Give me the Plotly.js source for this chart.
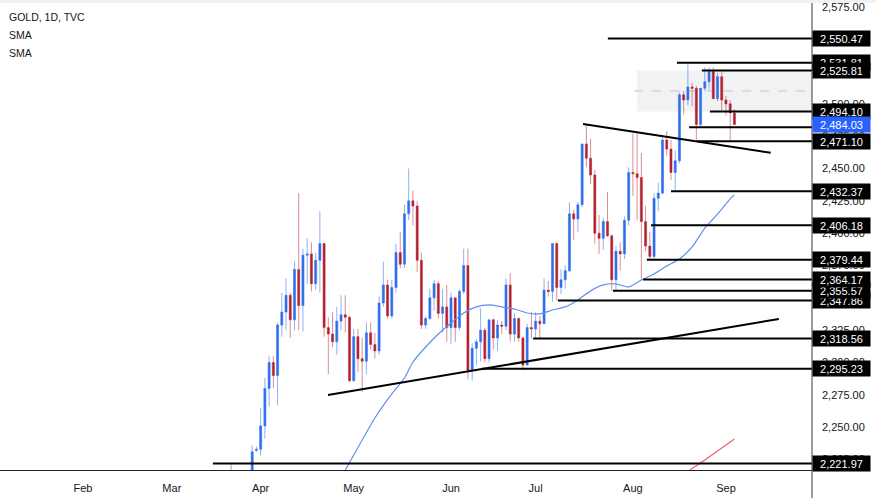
<!DOCTYPE html>
<html>
<head>
<meta charset="utf-8">
<script src="https://cdn.plot.ly/plotly-3.0.1.min.js"></script>
<style>
html,body{margin:0;padding:0;background:#fff;}
#chart{width:876px;height:498px;}
</style>
</head>
<body>
<div id="chart"></div>
<script>
// ---------- DATA ----------
const dates = [
 '2024-03-21','2024-03-22','2024-03-25','2024-03-26','2024-03-27','2024-03-28','2024-03-29',
 '2024-04-01','2024-04-02','2024-04-03','2024-04-04','2024-04-05','2024-04-08','2024-04-09','2024-04-10','2024-04-11','2024-04-12',
 '2024-04-15','2024-04-16','2024-04-17','2024-04-18','2024-04-19','2024-04-22','2024-04-23','2024-04-24','2024-04-25','2024-04-26','2024-04-29','2024-04-30',
 '2024-05-01','2024-05-02','2024-05-03','2024-05-06','2024-05-07','2024-05-08','2024-05-09','2024-05-10','2024-05-13','2024-05-14','2024-05-15','2024-05-16','2024-05-17',
 '2024-05-20','2024-05-21','2024-05-22','2024-05-23','2024-05-24','2024-05-27','2024-05-28','2024-05-29','2024-05-30','2024-05-31',
 '2024-06-03','2024-06-04','2024-06-05','2024-06-06','2024-06-07','2024-06-10','2024-06-11','2024-06-12','2024-06-13','2024-06-14',
 '2024-06-17','2024-06-18','2024-06-19','2024-06-20','2024-06-21','2024-06-24','2024-06-25','2024-06-26','2024-06-27','2024-06-28',
 '2024-07-01','2024-07-02','2024-07-03','2024-07-04','2024-07-05','2024-07-08','2024-07-09','2024-07-10','2024-07-11','2024-07-12',
 '2024-07-15','2024-07-16','2024-07-17','2024-07-18','2024-07-19','2024-07-22','2024-07-23','2024-07-24','2024-07-25','2024-07-26','2024-07-29','2024-07-30','2024-07-31',
 '2024-08-01','2024-08-02','2024-08-05','2024-08-06','2024-08-07','2024-08-08','2024-08-09','2024-08-12','2024-08-13','2024-08-14','2024-08-15','2024-08-16',
 '2024-08-19','2024-08-20','2024-08-21','2024-08-22','2024-08-23','2024-08-26','2024-08-27','2024-08-28','2024-08-29','2024-08-30',
 '2024-09-02','2024-09-03','2024-09-04'
];
const opens = [
 2186,2181,2165,2171,2179,2194,2232,
 2233,2251,2280,2300,2290,2329,2339,2352,2333,2372,
 2344,2383,2384,2361,2379,2392,2327,2322,2316,2332,2337,2335,
 2286,2320,2303,2301,2323,2314,2309,2346,2360,2336,2358,2385,2376,
 2415,2425,2421,2379,2329,2334,2350,2361,2338,2343,
 2327,2350,2327,2355,2375,2294,2311,2316,2325,2303,
 2333,2319,2329,2328,2360,2322,2334,2319,2298,2327,
 2326,2332,2330,2356,2355,2392,2358,2364,2371,2415,
 2411,2422,2469,2458,2445,2400,2396,2409,2398,2364,2386,2384,2410,
 2447,2446,2443,2409,2390,2382,2427,2431,2472,2465,2447,2456,
 2507,2503,2513,2512,2484,2512,2517,2525,2504,2521,
 2503,2500,2493
];
const highs = [
 2221.97,2190,2177,2185,2196,2236,2235,
 2265,2288,2305,2305,2331,2354,2365,2354,2378,2431,
 2388,2396,2393,2385,2417,2392,2335,2339,2343,2352,2352,2336,
 2326,2326,2319,2331,2331,2323,2351,2378,2364,2364,2392,2401,2422,
 2450,2433,2425,2385,2336,2357,2364,2363,2357,2360,
 2354,2350,2357,2388,2388,2315,2318,2342,2327,2333,
 2334,2333,2332,2365,2369,2338,2335,2320,2330,2339,
 2339,2336,2365,2363,2392,2393,2372,2375,2424,2418,
 2424,2469,2483.6,2473,2449,2414,2412,2432,2399,2390,2393,2413,2451,
 2477,2478,2462,2421,2401,2431,2439,2476,2479,2472,2464,2509,
 2510,2531.81,2516,2514,2512,2528,2528,2528,2524,2525,
 2506,2503,2496
];
const lows = [
 2180,2157,2160,2170,2176,2186,2231,
 2228,2241,2266,2280,2267,2320,2325,2319,2325,2325,
 2324,2361,2355,2356,2354,2320,2291,2312,2306,2325,2323,2285,
 2285,2293,2277,2291,2310,2303,2306,2343,2334,2334,2354,2373,2373,
 2410,2406,2370,2326,2326,2333,2340,2334,2323,2316,
 2314,2316,2325,2353,2287,2286,2298,2301,2300,2300,
 2310,2309,2322,2325,2316,2316,2316,2294,2298,2318.56,
 2318,2319,2330,2351,2347,2347.86,2353,2357,2370,2395,
 2401,2420,2451,2438,2392,2384,2387,2397,2355.57,2356,2371,2380,2406,
 2429,2410,2364.17,2386,2379.44,2380,2417,2430,2460,2441,2432.37,2454,
 2492,2499,2498,2471.10,2483,2510,2511,2504,2502,2495,
 2491,2472,2484
];
const closes = [
 2181,2165,2171,2179,2194,2231,2233,
 2251,2280,2300,2290,2329,2339,2352,2333,2372,2344,
 2383,2384,2361,2379,2392,2327,2322,2316,2332,2337,2335,2286,
 2320,2303,2301,2323,2314,2309,2346,2360,2336,2358,2385,2376,2415,
 2425,2421,2379,2329,2334,2350,2361,2338,2343,2327,
 2350,2327,2355,2375,2294,2311,2316,2325,2303,2333,
 2319,2329,2328,2360,2322,2334,2319,2298,2327,2326,
 2332,2330,2356,2355,2392,2358,2364,2371,2415,2411,
 2422,2469,2458,2445,2400,2396,2409,2398,2364,2386,2384,2410,2447,
 2446,2443,2409,2390,2382,2427,2431,2472,2465,2447,2456,2507,
 2503,2513,2512,2484,2512,2517,2525,2504,2521,2503,
 2500,2493,2484.03
];

// SMA readings (fast = blue, slow = red)
const smaFastDates = ['2024-04-25','2024-04-29','2024-05-08','2024-05-14','2024-05-17','2024-05-21','2024-05-24','2024-05-29',
 '2024-06-03','2024-06-06','2024-06-11','2024-06-14','2024-06-19','2024-06-24','2024-06-27','2024-07-02','2024-07-05','2024-07-10',
 '2024-07-15','2024-07-18','2024-07-23','2024-07-26','2024-07-31','2024-08-05','2024-08-08','2024-08-13','2024-08-16','2024-08-21',
 '2024-08-26','2024-08-29','2024-09-03','2024-09-04'];
const smaFastValues = [2206.1,2216.9,2257.1,2275.7,2288.0,2300.4,2312.0,2322.1,
 2330.6,2338.3,2343.0,2344.5,2343.0,2341.4,2338.3,2337.6,2340.6,2343.0,
 2348.4,2355.4,2360.0,2360.8,2358.4,2363.8,2368.5,2374.6,2380.1,2389.4,
 2404.0,2414.8,2426.5,2429.6];
const smaSlowDates = ['2024-08-16','2024-08-21','2024-08-26','2024-08-29','2024-09-04'];
const smaSlowValues = [2210.7,2218.1,2224.7,2231.6,2240.9];

// Horizontal levels (price, start date)
const levelPrices = [2550.47,2531.81,2525.81,2494.10,2482.00,2471.10,2432.37,2406.18,2379.44,2347.86,2355.57,2364.17,2318.56,2295.23,2221.97];
const levelStarts = ['2024-07-24 02:00','2024-08-15 10:00','2024-08-23 07:00','2024-08-27 05:00','2024-08-20 07:00','2024-08-22 05:00',
 '2024-08-14 00:00','2024-08-07 07:00','2024-08-06 07:00','2024-07-08 07:00','2024-07-25 07:00','2024-08-05 10:00',
 '2024-06-28 10:00','2024-06-12 07:00','2024-03-14 17:00'];
const levelLabeled = [true,true,true,true,false,true,true,true,true,true,true,true,true,true,true];
const lastPrice = 2484.03;

// Trend lines [startDate, startPrice, endDate, endPrice]
const trendStartDates = ['2024-07-16 05:00','2024-04-22 22:00'];
const trendStartPrices = [2484.4, 2274.9];
const trendEndDates = ['2024-09-16 14:00','2024-09-18 12:00'];
const trendEndPrices = [2462.2, 2333.7];

// Range box
const boxStart = '2024-08-01 23:00';
const boxTop = 2525.81, boxBottom = 2494.10;
const boxMidStart = '2024-08-01 07:00';

const monthTicks = ['2024-02-01','2024-03-01','2024-04-01','2024-05-01','2024-06-03','2024-07-01','2024-08-01','2024-09-02'];
const monthLabels = ['Feb','Mar','Apr','May','Jun','Jul','Aug','Sep'];
const legendLines = ['GOLD, 1D, TVC','SMA','SMA'];

// ---------- CHART ----------
const FONT = 'Liberation Sans, Arial, sans-serif';
const xRange = ['2024-01-04 09:07','2024-09-30 08:10'];
const farRight = '2024-10-20';
const fmt = v => v.toLocaleString('en-US',{minimumFractionDigits:2, maximumFractionDigits:2});

const traces = [
  {type:'scatter', mode:'lines', x:smaFastDates, y:smaFastValues, line:{color:'#5E8FF0', width:1.2, shape:'spline', smoothing:0.6}, hoverinfo:'skip'},
  {type:'scatter', mode:'lines', x:smaSlowDates, y:smaSlowValues, line:{color:'#F0606E', width:1.2, shape:'spline', smoothing:0.6}, hoverinfo:'skip'},
  {type:'candlestick', x:dates, open:opens, high:highs, low:lows, close:closes,
   increasing:{line:{color:'rgba(47,111,237,0.55)', width:1}, fillcolor:'#2F6FED'},
   decreasing:{line:{color:'rgba(178,34,46,0.5)', width:1}, fillcolor:'#B2222E'},
   whiskerwidth:0, hoverinfo:'skip'}
];

const shapes = [];
shapes.push({type:'rect', xref:'x', yref:'y', x0:boxStart, x1:farRight, y0:boxBottom, y1:boxTop,
  fillcolor:'rgba(120,123,134,0.1)', line:{width:0}, layer:'below'});
shapes.push({type:'line', xref:'x', yref:'y', x0:boxMidStart, x1:farRight, y0:(boxTop+boxBottom)/2, y1:(boxTop+boxBottom)/2,
  line:{color:'#C3C5CC', width:1, dash:'dash'}, layer:'below'});
levelPrices.forEach((p,i)=>{
  shapes.push({type:'line', xref:'x', yref:'y', x0:levelStarts[i], x1:farRight, y0:p, y1:p, line:{color:'#000', width:2}});
});
trendStartDates.forEach((d,i)=>{
  shapes.push({type:'line', xref:'x', yref:'y', x0:d, y0:trendStartPrices[i], x1:trendEndDates[i], y1:trendEndPrices[i], line:{color:'#000', width:2}});
});
// right axis line (full height) and top band
shapes.push({type:'line', xref:'paper', yref:'paper', x0:1, x1:1, y0:-28/470, y1:1, line:{color:'#3a3a3a', width:1}});
shapes.push({type:'rect', xref:'paper', yref:'paper', x0:0, x1:876/812, y0:1-3/470, y1:1, fillcolor:'#EFF1F4', line:{width:0}, layer:'above'});

const annotations = [];
levelPrices.forEach((p,i)=>{
  if(!levelLabeled[i]) return;
  annotations.push({xref:'paper', yref:'y', x:1, y:p, xanchor:'left', yanchor:'middle', text:fmt(p), showarrow:false,
    font:{family:FONT, size:11, color:'#fff'}, bgcolor:'#000', width:55, height:13, borderpad:1});
});
annotations.push({xref:'paper', yref:'y', x:1, y:lastPrice, xanchor:'left', yanchor:'middle', text:fmt(lastPrice), showarrow:false,
  font:{family:FONT, size:11, color:'#fff'}, bgcolor:'#2962FF', width:55, height:13, borderpad:1});
const legendY = [17,35,53];
legendLines.forEach((t,i)=>{
  annotations.push({xref:'paper', yref:'paper', x:0, y:1, xanchor:'left', yanchor:'middle', xshift:7, yshift:-legendY[i],
    text:t, showarrow:false, font:{family:FONT, size:10.5, color:'#131722'}});
});

const layout = {
  width:876, height:498,
  margin:{l:0, r:64, t:0, b:28, pad:0},
  paper_bgcolor:'#fff', plot_bgcolor:'#fff',
  showlegend:false,
  font:{family:FONT, size:11, color:'#131722'},
  xaxis:{type:'date', range:xRange, rangebreaks:[{bounds:['sat','mon']}], rangeslider:{visible:false},
    tickmode:'array', tickvals:monthTicks, ticktext:monthLabels, showgrid:false, zeroline:false,
    showline:true, linecolor:'#222', linewidth:1, ticks:'', ticklabelstandoff:8,
    tickfont:{family:FONT, size:11, color:'#131722'}, fixedrange:true},
  yaxis:{side:'right', range:[2216.9,2580.3], tick0:2225, dtick:25, tickformat:',.2f', showgrid:false, zeroline:false,
    showline:false, ticks:'', ticklabelstandoff:9, tickfont:{family:FONT, size:11, color:'#131722'}, fixedrange:true},
  shapes:shapes,
  annotations:annotations
};

Plotly.newPlot('chart', traces, layout, {staticPlot:true, displayModeBar:false});
</script>
</body>
</html>
